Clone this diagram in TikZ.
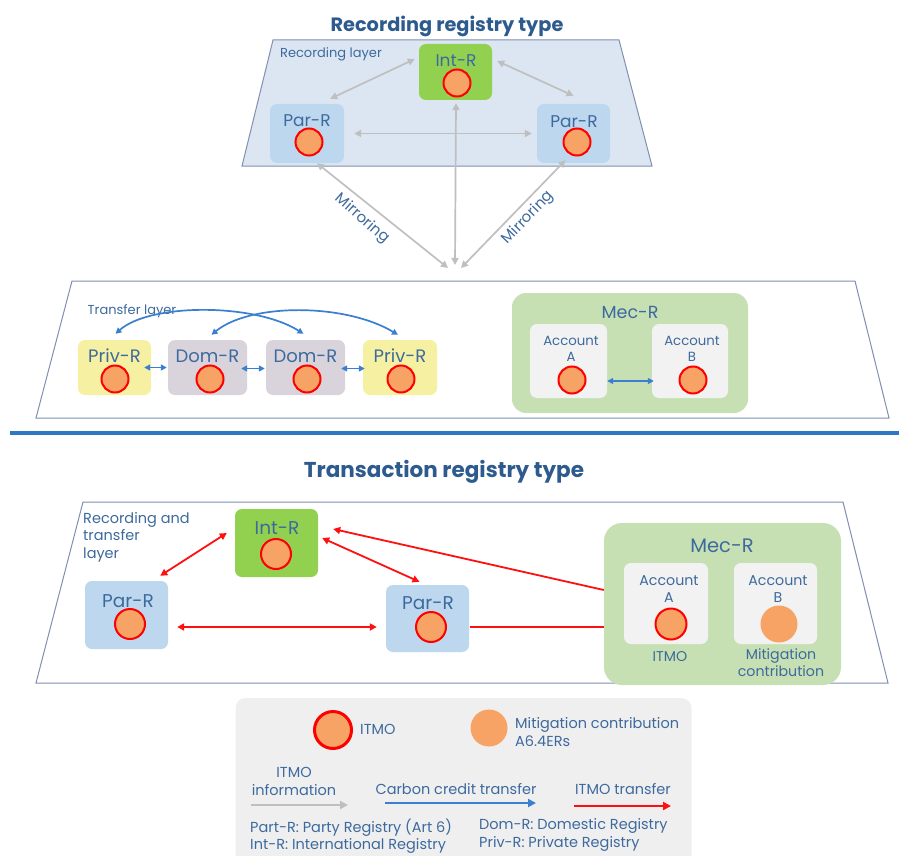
\documentclass[tikz,border=0pt]{standalone}
\usepackage{fontspec}
\setmainfont{Poppins}
\usetikzlibrary{arrows.meta,calc}
\definecolor{tblue}{HTML}{3D6A9E}
\definecolor{ttitle}{HTML}{2E5B8E}
\definecolor{layerfill}{HTML}{DCE6F2}
\definecolor{layerdraw}{HTML}{8090B0}
\definecolor{parfill}{HTML}{BDD7EE}
\definecolor{intfill}{HTML}{92D050}
\definecolor{privfill}{HTML}{F6F0A2}
\definecolor{domfill}{HTML}{D9D3DB}
\definecolor{mecfill}{HTML}{C6E0B4}
\definecolor{accfill}{HTML}{F2F2F2}
\definecolor{itmofill}{HTML}{F8A366}
\definecolor{itmored}{HTML}{FF0000}
\definecolor{garrow}{HTML}{BFBFBF}
\definecolor{barrow}{HTML}{3A7FD0}
\definecolor{rarrow}{HTML}{FF1010}
\definecolor{sepline}{HTML}{2E78C2}
\definecolor{legfill}{HTML}{EFEFEF}
\begin{document}
\begin{tikzpicture}[x=1pt,y=-1pt,
  regbox/.style={rounded corners=7pt, inner sep=0pt},
  lbl/.style={text=tblue, font=\fontsize{17}{19}\selectfont, inner sep=0pt},
  lblb/.style={text=tblue, font=\fontsize{18.5}{20}\selectfont, inner sep=0pt},
  small/.style={text=tblue, font=\fontsize{13}{15}\selectfont, inner sep=0pt},
  acct/.style={text=tblue, font=\fontsize{13.3}{16}\selectfont, inner sep=0pt, align=center},
  acctb/.style={text=tblue, font=\fontsize{14.2}{17}\selectfont, inner sep=0pt, align=center},
  leg/.style={text=tblue, font=\fontsize{14.5}{17.5}\selectfont, inner sep=0pt},
  ttl/.style={text=ttitle, font=\fontsize{19.3}{21}\selectfont\bfseries, inner sep=0pt},
  itmo/.style={circle, fill=itmofill, draw=itmored, line width=2pt, minimum size=27pt, inner sep=0pt},
  mitig/.style={circle, fill=itmofill, minimum size=37pt, inner sep=0pt},
  garr/.style={draw=garrow, line width=1.7pt, {Triangle[length=7pt,width=7pt]}-{Triangle[length=7pt,width=7pt]}},
  barr/.style={draw=barrow, line width=1.7pt, {Triangle[length=6pt,width=6pt]}-{Triangle[length=6pt,width=6pt]}},
  rarr/.style={draw=rarrow, line width=1.8pt, {Triangle[length=7pt,width=7pt]}-{Triangle[length=7pt,width=7pt]}},
  layer/.style={draw=layerdraw, line width=1pt}
]
\useasboundingbox (0,0) rectangle (899,856);
\fill[white] (0,0) rectangle (899,856);

% ---------------- Recording registry type ----------------
\node[ttl] (title1) at (447,26) {Recording registry type};
\path[layer, fill=layerfill] (273,40) -- (619,40) -- (652,166) -- (242,166) -- cycle;
\node[small] (reclayer) at (331,54) {Recording layer};

\node[regbox, fill=intfill, minimum width=73pt, minimum height=56pt] (intR1) at (455.5,72) {};
\node[lbl] (intR1t) at (456,61) {Int-R};
\node[itmo] (intR1c) at (457,83) {};

\node[regbox, fill=parfill, minimum width=74pt, minimum height=59pt] (parL1) at (307,133.5) {};
\node[lbl] (parL1t) at (307,121) {Par-R};
\node[itmo] (parL1c) at (309,142) {};

\node[regbox, fill=parfill, minimum width=73pt, minimum height=59pt] (parR1) at (573.5,133.5) {};
\node[lbl] (parR1t) at (574,122) {Par-R};
\node[itmo] (parR1c) at (577,142) {};

\coordinate (conv) at (455,268);
\draw[garr] ($(parL1.north east)+(-14,-5)$) -- ($(intR1.west)+(-4,-13)$);
\draw[garr] ($(intR1.east)+(5,-11)$) -- ($(parR1.north)+(0,-8)$);
\draw[garr] ($(parL1.east)+(10,0)$) -- ($(parR1.west)+(-5,0)$);
\draw[garr] ($(intR1.south)+(0.5,3)$) -- ($(conv)+(0,-3)$);
\draw[garr] ($(parL1.south)+(10,0)$) -- ($(conv)+(-7,0)$);
\draw[garr] ($(parR1.south)+(-8,-3)$) -- ($(conv)+(6,0)$);
\node[small, font=\fontsize{15}{17}\selectfont, rotate=-41] (mirL) at (362,219) {Mirroring};
\node[small, font=\fontsize{15}{17}\selectfont, rotate=46] (mirR) at (528,218) {Mirroring};

% ---------------- Transfer layer ----------------
\path[layer, fill=white] (72,281) -- (855,281) -- (889,418) -- (36,418) -- cycle;
\node[small] (translayer) at (132,311) {Transfer layer};

\node[regbox, fill=privfill, minimum width=73pt, minimum height=55pt] (privL) at (114.5,367.5) {};
\node[lbl, font=\fontsize{18}{20}\selectfont] (privLt) at (114.5,356) {Priv-R};
\node[itmo] (privLc) at (115,379) {};
\node[regbox, fill=domfill, minimum width=79pt, minimum height=55pt] (domL) at (207.5,367.5) {};
\node[lbl, font=\fontsize{18}{20}\selectfont] (domLt) at (207.5,356) {Dom-R};
\node[itmo] (domLc) at (210,379) {};
\node[regbox, fill=domfill, minimum width=79pt, minimum height=55pt] (domR) at (305.5,367.5) {};
\node[lbl, font=\fontsize{18}{20}\selectfont] (domRt) at (305.5,356) {Dom-R};
\node[itmo] (domRc) at (307,379) {};
\node[regbox, fill=privfill, minimum width=74pt, minimum height=55pt] (privR) at (400,367.5) {};
\node[lbl, font=\fontsize{18}{20}\selectfont] (privRt) at (400,356) {Priv-R};
\node[itmo] (privRc) at (401,379) {};

\draw[barr] ($(privL.east)+(-7,0)$) -- ($(domL.west)+(-1,0)$);
\draw[barr] ($(domL.east)+(-6,1)$) -- ($(domR.west)+(-1,1)$);
\draw[barr] ($(domR.east)+(-4,1)$) -- ($(privR.west)+(2,1)$);
\draw[barr] ($(privL.north)+(1,-6)$) .. controls (150,303) and (255,303) .. ($(domR.north)+(-2,-6)$);
\draw[barr] ($(domL.north)+(4,-5)$) .. controls (250,303) and (345,303) .. ($(privR.north)+(-2,-5)$);

\node[regbox, rounded corners=14pt, fill=mecfill, minimum width=236pt, minimum height=120pt] (mecR1) at (630,353) {};
\node[lbl, font=\fontsize{17.5}{19}\selectfont] (mecR1t) at (630,312) {Mec-R};
\node[regbox, fill=accfill, minimum width=77pt, minimum height=74pt] (accA1) at (568.5,361) {};
\node[acct] (accA1t) at (571,349) {Account\\A};
\node[itmo] (accA1c) at (572,380) {};
\node[regbox, fill=accfill, minimum width=76pt, minimum height=74pt] (accB1) at (690,361) {};
\node[acct] (accB1t) at (692,349) {Account\\B};
\node[itmo] (accB1c) at (693,380) {};
\draw[barr] ($(accA1.east)+(0,20)$) -- ($(accB1.west)+(2,20)$);

% separator
\draw[sepline, line width=4.5pt] (10,433) -- (899,433);

% ---------------- Transaction registry type ----------------
\node[ttl, font=\fontsize{21.5}{23}\selectfont\bfseries] (title2) at (444,472) {Transaction registry type};
\path[layer, fill=white] (83,502) -- (843,502) -- (888,683) -- (36,683) -- cycle;
\node[leg, align=left, anchor=north west] (rtlayer) at (83,512) {Recording and\\transfer\\layer};

\node[regbox, fill=intfill, minimum width=83pt, minimum height=68pt] (intR2) at (276.5,543) {};
\node[lblb] (intR2t) at (277,528) {Int-R};
\node[itmo, minimum size=30pt] (intR2c) at (276,554) {};
\node[regbox, fill=parfill, minimum width=83pt, minimum height=68pt] (parL2) at (126.5,615) {};
\node[lblb] (parL2t) at (128,601) {Par-R};
\node[itmo, minimum size=30pt] (parL2c) at (130,624) {};
\node[regbox, fill=parfill, minimum width=83pt, minimum height=67pt] (parR2) at (427.5,618.5) {};
\node[lblb] (parR2t) at (428,603) {Par-R};
\node[itmo, minimum size=30pt] (parR2c) at (431,627) {};

\node[regbox, rounded corners=18pt, fill=mecfill, minimum width=237pt, minimum height=162pt] (mecR2) at (722.5,604) {};
\node[lblb, font=\fontsize{19.5}{21}\selectfont] (mecR2t) at (722,546) {Mec-R};
\node[regbox, fill=accfill, minimum width=84pt, minimum height=81pt] (accA2) at (666,603.5) {};
\node[acctb] (accA2t) at (669,589) {Account\\A};
\node[itmo, minimum size=31pt] (accA2c) at (671,624) {};
\node[acctb] (itmoA) at (670,657) {ITMO};
\node[regbox, fill=accfill, minimum width=83pt, minimum height=81pt] (accB2) at (775.5,603.5) {};
\node[acctb] (accB2t) at (778,589) {Account\\B};
\node[mitig] (accB2c) at (779,624) {};
\node[acctb] (mitB) at (781,663) {Mitigation\\contribution};

\draw[rarr] ($(intR2.west)+(-8,-10)$) -- ($(parL2.north east)+(-8,-5)$);
\draw[rarr] ($(intR2.east)+(4,-5)$) -- ($(parR2.north)+(-8,-3)$);
\draw[rarr] ($(parL2.east)+(9,12)$) -- ($(parR2.west)+(-9,8.5)$);
\draw[draw=rarrow, line width=1.8pt, -{Triangle[length=7pt,width=7pt]}] ($(mecR2.west)+(0,-14)$) -- ($(intR2.east)+(15,-14)$);
\draw[draw=rarrow, line width=1.8pt] ($(parR2.east)+(1,8.5)$) -- ($(mecR2.west)+(0,23)$);

% ---------------- Legend ----------------
\node[regbox, rounded corners=10pt, fill=legfill, minimum width=456pt, minimum height=184pt] (legend) at (463.5,790) {};
\node[itmo, line width=3pt, minimum size=37pt] (legItmo) at (333,730) {};
\node[leg, anchor=west] (legItmoT) at (360,729) {ITMO};
\node[mitig] (legMit) at (489,728) {};
\node[leg, anchor=west, align=left, font=\fontsize{14.5}{18.5}\selectfont] (legMitT) at (515,732) {Mitigation contribution\\A6.4ERs};
\node[leg, align=center, font=\fontsize{14.5}{18}\selectfont] (legInfoT) at (294,781) {ITMO\\information};
\node[leg] (legCarbT) at (456,789) {Carbon credit transfer};
\node[leg] (legTrT) at (623,789) {ITMO transfer};
\coordinate (g1) at (251,805); \coordinate (g2) at (348,805);
\coordinate (b1) at (385,803); \coordinate (b2) at (536,803);
\coordinate (r1) at (574,806); \coordinate (r2) at (671,806);
\draw[draw=garrow, line width=2pt, -{Triangle[length=8pt,width=8pt]}] (g1) -- (g2);
\draw[draw=barrow, line width=2pt, -{Triangle[length=8pt,width=8pt]}] (b1) -- (b2);
\draw[draw=rarrow, line width=2pt, -{Triangle[length=8pt,width=8pt]}] (r1) -- (r2);
\node[leg, anchor=west, align=left] (legAbbrL) at (250,836) {Part-R: Party Registry (Art 6)\\Int-R: International Registry};
\node[leg, anchor=west, align=left] (legAbbrR) at (479,835) {Dom-R: Domestic Registry\\Priv-R: Private Registry};
\end{tikzpicture}
\end{document}
